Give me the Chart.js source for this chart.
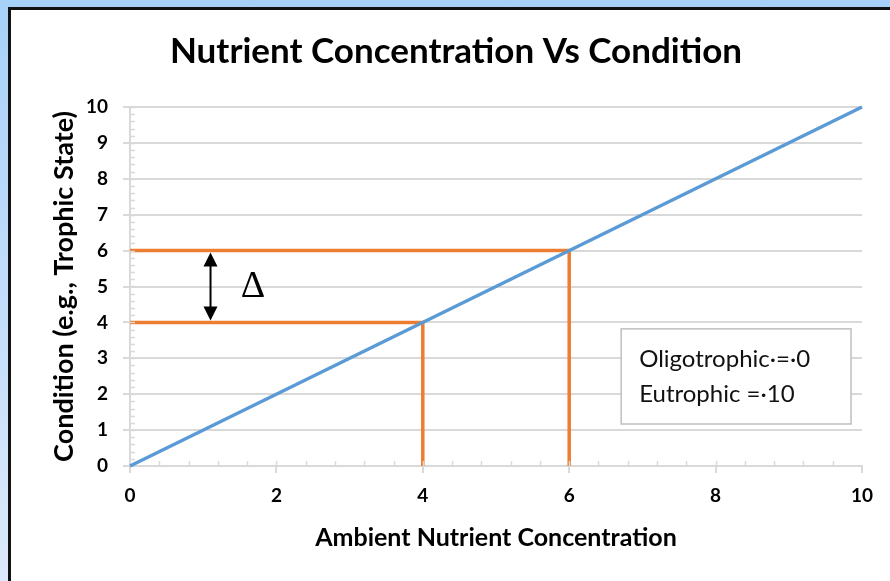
<!DOCTYPE html>
<html>
<head>
<meta charset="utf-8">
<script src="https://cdn.jsdelivr.net/npm/chart.js@4/dist/chart.umd.min.js"></script>
<style>
  html, body { margin: 0; padding: 0; }
  body {
    width: 890px; height: 581px; overflow: hidden; position: relative;
    background: linear-gradient(#a7d1f9, #dde9fb);
  }
  .frame {
    position: absolute; left: 8px; top: 7px; width: 900px; height: 600px;
    border-left: 3px solid #111; border-top: 3px solid #111; background: #fff;
  }
  #chart { position: absolute; left: 0; top: 0; }
</style>
</head>
<body>
<div class="frame"></div>
<canvas id="chart" width="890" height="581"></canvas>
<script>
'use strict';

// Data
const trendX = [0, 10];
const trendY = [0, 10];
const highPathX = [0, 6, 6];
const highPathY = [6, 6, 0];
const lowPathX = [0, 4, 4];
const lowPathY = [4, 4, 0];
const deltaX = [1.1, 1.1];
const deltaY = [4, 6];
const xTickValues = [0, 2, 4, 6, 8, 10];
const yTickValues = [0, 1, 2, 3, 4, 5, 6, 7, 8, 9, 10];
const legendLines = ['Oligotrophic\u00b7=\u00b70', 'Eutrophic =\u00b710'];

const toPoints = (xs, ys) => xs.map((x, i) => ({ x: x, y: ys[i] }));

const fontFamily = 'Lato, "Open Sans", sans-serif';
const gridColor = '#d9d9d9';

// minor tick marks, delta arrow and the note box
const extrasPlugin = {
  id: 'extras',
  afterDatasetsDraw(chart) {
    const { ctx, scales: { x, y } } = chart;
    ctx.save();

    // minor ticks
    ctx.strokeStyle = gridColor;
    ctx.lineWidth = 1.5;
    for (let v = 0.2; v < 10; v += 0.2) {
      const py = Math.round(y.getPixelForValue(v)) + 0.5;
      ctx.beginPath();
      ctx.moveTo(x.left, py);
      ctx.lineTo(x.left + 5, py);
      ctx.stroke();
    }
    for (let v = 0.4; v < 10; v += 0.4) {
      const px = Math.round(x.getPixelForValue(v)) + 0.5;
      ctx.beginPath();
      ctx.moveTo(px, y.bottom);
      ctx.lineTo(px, y.bottom - 5);
      ctx.stroke();
    }

    // delta arrow
    const ax = x.getPixelForValue(deltaX[0]);
    const a0 = y.getPixelForValue(deltaY[0]);
    const a1 = y.getPixelForValue(deltaY[1]);
    const head = 14, half = 7;
    ctx.strokeStyle = '#000';
    ctx.fillStyle = '#000';
    ctx.lineWidth = 2;
    ctx.beginPath();
    ctx.moveTo(ax, a0 - head);
    ctx.lineTo(ax, a1 + head);
    ctx.stroke();
    ctx.beginPath();
    ctx.moveTo(ax, a1 + 2);
    ctx.lineTo(ax - half, a1 + head + 2);
    ctx.lineTo(ax + half, a1 + head + 2);
    ctx.closePath();
    ctx.fill();
    ctx.beginPath();
    ctx.moveTo(ax, a0 - 2);
    ctx.lineTo(ax - half, a0 - head - 2);
    ctx.lineTo(ax + half, a0 - head - 2);
    ctx.closePath();
    ctx.fill();

    ctx.font = '38px "Liberation Serif", "DejaVu Serif", serif';
    ctx.textAlign = 'center';
    ctx.textBaseline = 'middle';
    ctx.fillText('\u0394', x.getPixelForValue(1.68), y.getPixelForValue(4.98));

    // note box
    const bx0 = x.getPixelForValue(6.71), bx1 = x.getPixelForValue(9.85);
    const by0 = y.getPixelForValue(3.82), by1 = y.getPixelForValue(1.17);
    ctx.fillStyle = '#fff';
    ctx.fillRect(bx0, by0, bx1 - bx0, by1 - by0);
    ctx.strokeStyle = '#bfbfbf';
    ctx.lineWidth = 1.5;
    ctx.strokeRect(bx0, by0, bx1 - bx0, by1 - by0);
    ctx.fillStyle = '#111';
    ctx.font = '24px ' + fontFamily;
    ctx.textAlign = 'left';
    legendLines.forEach((line, i) => {
      ctx.fillText(line, bx0 + 18, by0 + 30 + i * 35);
    });

    ctx.restore();
  }
};

new Chart(document.getElementById('chart'), {
  type: 'scatter',
  data: {
    datasets: [
      {
        data: toPoints(trendX, trendY),
        showLine: true,
        borderColor: '#5b9bd5',
        borderWidth: 3.5,
        pointRadius: 0,
        clip: false,
        order: 0
      },
      {
        data: toPoints(highPathX, highPathY),
        showLine: true,
        borderColor: '#ed7d31',
        borderWidth: 3.5,
        pointRadius: 0,
        clip: false,
        order: 1
      },
      {
        data: toPoints(lowPathX, lowPathY),
        showLine: true,
        borderColor: '#ed7d31',
        borderWidth: 3.5,
        pointRadius: 0,
        clip: false,
        order: 1
      }
    ]
  },
  options: {
    responsive: false,
    animation: false,
    layout: { padding: { left: 50, right: 28, top: 0, bottom: 0 } },
    plugins: {
      legend: { display: false },
      tooltip: { enabled: false },
      title: {
        display: true,
        text: 'Nutrient Concentration Vs Condition',
        color: '#000',
        font: { family: fontFamily, size: 35, weight: 'bold' },
        padding: { top: 31, bottom: 34 }
      }
    },
    scales: {
      x: {
        type: 'linear',
        min: 0,
        max: 10,
        afterFit: (scale) => { scale.height = 115; },
        afterBuildTicks: (scale) => { scale.ticks = xTickValues.map(v => ({ value: v })); },
        grid: { drawOnChartArea: false, color: gridColor, lineWidth: 2, tickLength: 7 },
        border: { color: gridColor, width: 2 },
        ticks: {
          color: '#000',
          padding: 11,
          font: { family: fontFamily, size: 19, weight: 'bold' }
        },
        title: {
          display: true,
          text: 'Ambient Nutrient Concentration',
          color: '#000',
          font: { family: fontFamily, size: 25, weight: 'bold' },
          padding: { top: 0, bottom: 28 }
        }
      },
      y: {
        type: 'linear',
        min: 0,
        max: 10,
        afterFit: (scale) => { scale.width = 80; },
        afterBuildTicks: (scale) => { scale.ticks = yTickValues.map(v => ({ value: v })); },
        grid: { color: gridColor, lineWidth: 2, tickLength: 7 },
        border: { color: gridColor, width: 2 },
        ticks: {
          color: '#000',
          padding: 15,
          font: { family: fontFamily, size: 19, weight: 'bold' }
        },
        title: {
          display: true,
          text: 'Condition (e.g., Trophic State)',
          color: '#000',
          font: { family: fontFamily, size: 27, weight: 'bold', lineHeight: 1 },
          padding: { top: 1, bottom: 0 }
        }
      }
    }
  },
  plugins: [extrasPlugin]
});
</script>
</body>
</html>
